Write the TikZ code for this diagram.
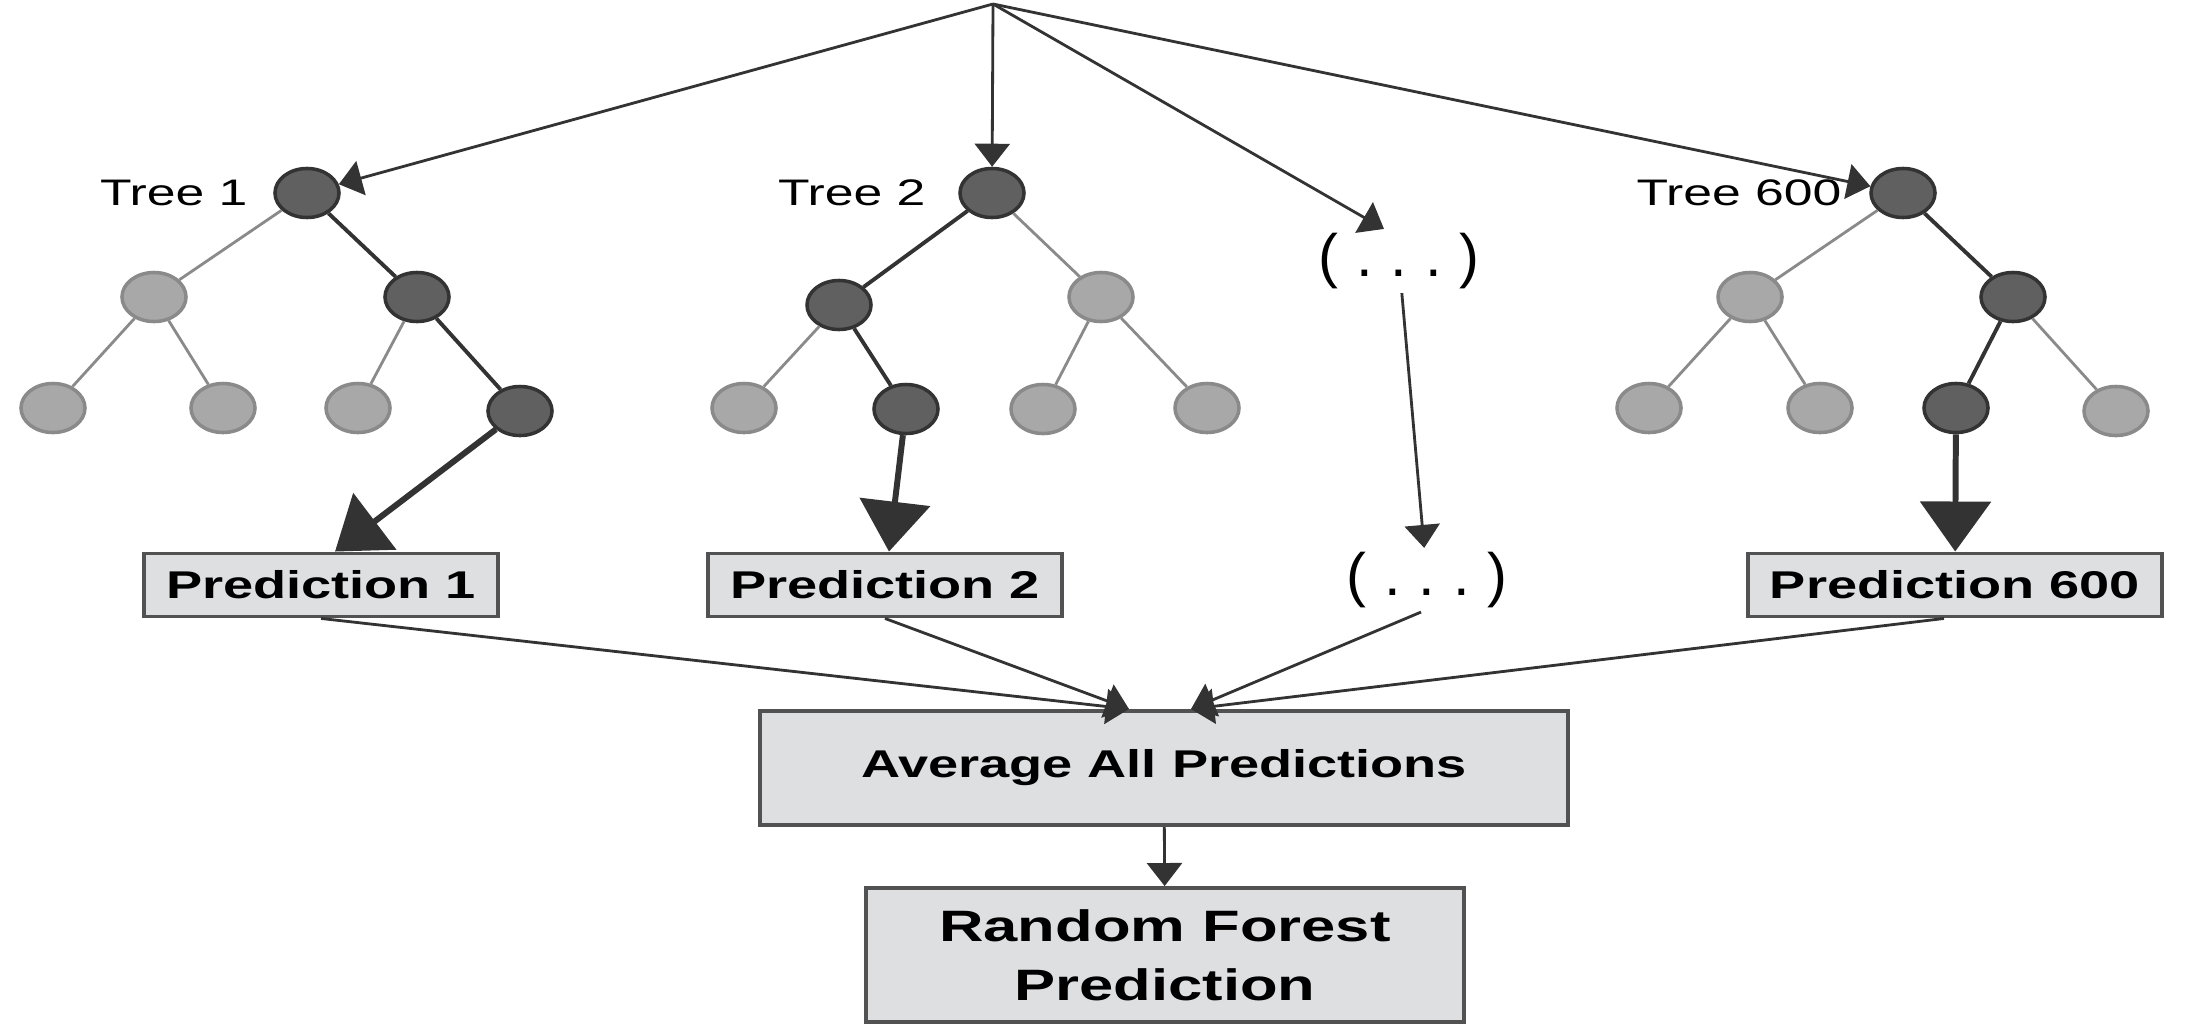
\documentclass[tikz,border=0pt]{standalone}
\usepackage{fontspec}
\setmainfont[FakeStretch=1.4]{Liberation Sans}
\newfontfamily\plainfont{Liberation Sans}
\usetikzlibrary{positioning,shapes.geometric,arrows.meta}
\definecolor{darkfill}{HTML}{606060}
\definecolor{lightfill}{HTML}{A8A8A8}
\definecolor{boxfill}{HTML}{DEDFE1}
\definecolor{linedark}{HTML}{333333}
\definecolor{linelight}{HTML}{8A8A8A}
\newcommand{\dotgap}{\hspace{0.18cm}}
\tikzset{
	dnode/.style={ellipse, draw=linedark, fill=darkfill, line width=1pt, minimum width=0.64cm, minimum height=0.49cm, inner sep=0pt},
	lnode/.style={ellipse, draw=linelight, fill=lightfill, line width=1pt, minimum width=0.64cm, minimum height=0.49cm, inner sep=0pt},
	dedge/.style={draw=linedark, line width=1.1pt},
	ledge/.style={draw=linelight, line width=0.8pt},
	treelabel/.style={font=\fontsize{10.5}{12}\selectfont, inner sep=0pt},
	dots/.style={font=\plainfont\fontsize{17}{18}\selectfont, inner sep=1pt},
	predbox/.style={draw=linedark!85, fill=boxfill, line width=1.1pt, font=\fontsize{11}{13}\selectfont\bfseries, minimum height=0.63cm, inner xsep=0.22cm},
	thinarrow/.style={draw=linedark, line width=0.8pt, -{Triangle[width=0.35cm,length=0.23cm]}},
	bigarrow/.style={draw=linedark, line width=1.7pt, -{Triangle[width=0.7cm,length=0.5cm]}},
}

\begin{document}
\begin{tikzpicture}[x=0.01cm,y=-0.01cm]
	\useasboundingbox (0,0) rectangle (2185,1024);
	\coordinate (top) at (993,4);
	% tree 1
	\node[dnode] (r1) at (307,193) {};
	\node[lnode] (a1) at (154,297) {};
	\node[dnode] (b1) at (417,297) {};
	\node[lnode] (c1) at (53,408) {};
	\node[lnode] (d1) at (223,408) {};
	\node[lnode] (e1) at (358,408) {};
	\node[dnode] (f1) at (520,411) {};
	\node[treelabel, left=0.25cm of r1] (t1) {Tree 1};
	\draw[ledge] (r1) -- (a1) (a1) -- (c1) (a1) -- (d1) (b1) -- (e1);
	\draw[dedge] (r1) -- (b1) (b1) -- (f1);
	% tree 2
	\node[dnode] (r2) at (992,193) {};
	\node[dnode] (a2) at (839,305) {};
	\node[lnode] (b2) at (1101,297) {};
	\node[lnode] (c2) at (744,408) {};
	\node[dnode] (d2) at (906,409) {};
	\node[lnode] (e2) at (1043,409) {};
	\node[lnode] (f2) at (1207,408) {};
	\node[treelabel, left=0.32cm of r2] (t2) {Tree 2};
	\draw[ledge] (r2) -- (b2) (a2) -- (c2) (b2) -- (e2) (b2) -- (f2);
	\draw[dedge] (r2) -- (a2) (a2) -- (d2);
	% tree 600
	\node[dnode] (r3) at (1903,193) {};
	\node[lnode] (a3) at (1750,297) {};
	\node[dnode] (b3) at (2013,297) {};
	\node[lnode] (c3) at (1649,408) {};
	\node[lnode] (d3) at (1820,408) {};
	\node[dnode] (e3) at (1956,408) {};
	\node[lnode] (f3) at (2116,411) {};
	\node[treelabel, left=0.27cm of r3] (t3) {Tree 600};
	\draw[ledge] (r3) -- (a3) (a3) -- (c3) (a3) -- (d3) (b3) -- (f3);
	\draw[dedge] (r3) -- (b3) (b3) -- (e3);
	% the rest
	\node[dots] (dots1) at (1399,261) {(\dotgap.\dotgap.\dotgap.\dotgap)};
	\node[dots] (dots2) at (1427,580) {(\dotgap.\dotgap.\dotgap.\dotgap)};
	\node[predbox] (p1) at (321,585) {Prediction 1};
	\node[predbox] (p2) at (885,585) {Prediction 2};
	\node[predbox] (p3) at (1955,585) {Prediction 600};
	\node[predbox, minimum width=8.07cm, minimum height=1.14cm] (avg) at (1164,768) {Average All Predictions};
	\node[predbox, minimum width=5.97cm, minimum height=1.34cm, align=center, font=\fontsize{12.5}{16.8}\selectfont\bfseries] (rf) at (1165,955) {Random Forest\\Prediction};
	\draw[thinarrow] (top) -- (r1);
	\draw[thinarrow] (top) -- (r2);
	\draw[thinarrow] (top) -- ([xshift=-0.15cm]dots1.north);
	\draw[thinarrow] (top) -- (r3);
	\draw[bigarrow] (f1) -- ([xshift=0.14cm]p1.north);
	\draw[bigarrow] (d2) -- (p2);
	\draw[bigarrow] (e3) -- (p3);
	\draw[thinarrow] (dots1) -- (dots2);
	\draw[thinarrow] (p1.south) -- ([xshift=-0.35cm]avg.north);
	\draw[thinarrow] (p2.south) -- ([xshift=-0.35cm]avg.north);
	\draw[thinarrow] ([xshift=-0.06cm]dots2.south) -- ([xshift=0.27cm]avg.north);
	\draw[thinarrow] ([xshift=-0.11cm]p3.south) -- ([xshift=0.27cm]avg.north);
	\draw[thinarrow] (avg) -- (rf);
\end{tikzpicture}
\end{document}
